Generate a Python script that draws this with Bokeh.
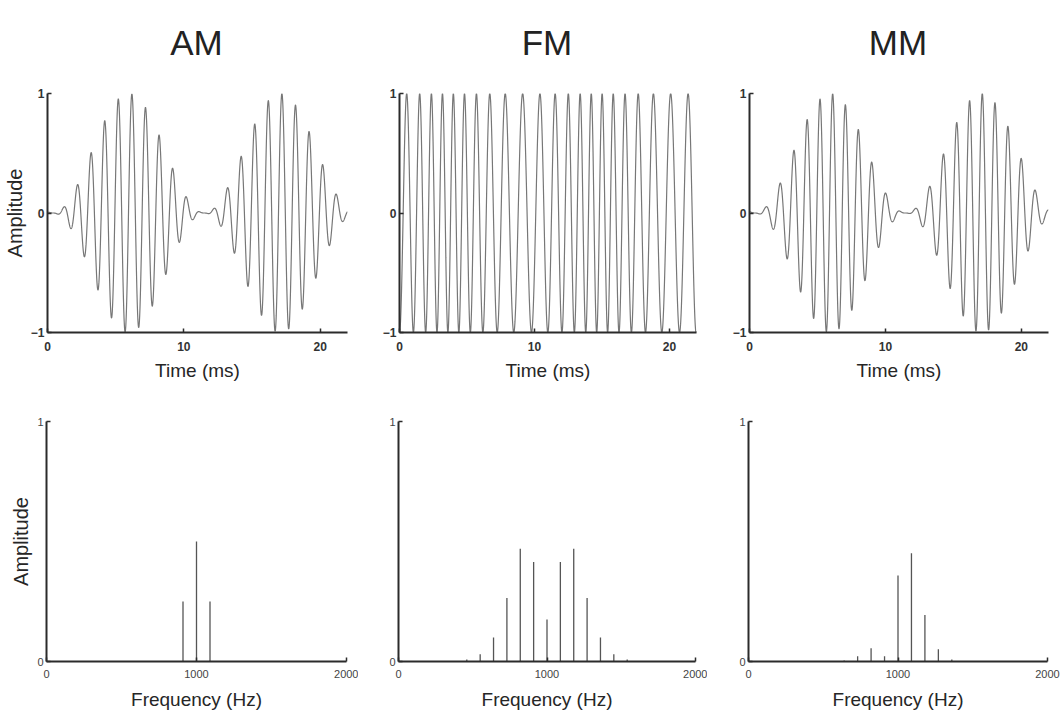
import numpy as np
from bokeh.plotting import figure
from bokeh.layouts import column, row
from bokeh.models import Range1d, FixedTicker, ColumnDataSource
from bokeh.core.properties import value
from bokeh.embed import file_html
from bokeh.resources import INLINE

# ---------------- data ----------------
panel_titles = ["AM", "FM", "MM"]

# time axis (ms)
time_ticks = [0, 10, 20]
time_max_ms = 22.0
amp_ticks_top = [-1, 0, 1]

# signal parameters
carrier_hz = 1000.0          # carrier frequency
mod_hz = 90.0                # modulation rate (envelope period ~11.1 ms)
am_env_zero_ms = 0.4         # envelope minimum time
am_carrier_phase = 0.377     # carrier phase (rad)
fm_index = 2.7               # FM modulation index (±~240 Hz)
fm_fmax_ms = 3.5             # time of max instantaneous frequency
mm_index = 0.8               # FM index in mixed modulation (±~70 Hz)
mm_carrier_phase = 0.742

# spectra (Hz, amplitude)
freq_ticks = [0, 1000, 2000]
amp_ticks_bottom = [0, 1]
am_freqs = [910, 1000, 1090]
am_amps = [0.25, 0.50, 0.25]
fm_freqs = [460, 550, 640, 730, 820, 910, 1000, 1090, 1180, 1270, 1360, 1450, 1540]
fm_amps = [0.008, 0.03, 0.10, 0.265, 0.47, 0.415, 0.175, 0.415, 0.47, 0.265, 0.10, 0.03, 0.008]
mm_freqs = [640, 730, 820, 910, 1000, 1090, 1180, 1270, 1360]
mm_amps = [0.004, 0.022, 0.055, 0.022, 0.358, 0.451, 0.194, 0.051, 0.008]

# ---------------- waveforms ----------------
t_ms = np.linspace(0, time_max_ms, 4000)
t = t_ms / 1000.0
env = 0.5 * (1 - np.cos(2 * np.pi * mod_hz * (t - am_env_zero_ms / 1000.0)))
am_wave = env * np.sin(2 * np.pi * carrier_hz * t + am_carrier_phase)

phi = -2 * np.pi * mod_hz * fm_fmax_ms / 1000.0
theta_fm = 2 * np.pi * carrier_hz * t + fm_index * (np.sin(2 * np.pi * mod_hz * t + phi) - np.sin(phi))
fm_wave = -np.cos(theta_fm)

theta_mm = (2 * np.pi * carrier_hz * t
            - mm_index * np.sin(2 * np.pi * mod_hz * (t - am_env_zero_ms / 1000.0))
            + mm_carrier_phase)
mm_wave = env * np.sin(theta_mm)

waves = [am_wave, fm_wave, mm_wave]
spectra = [(am_freqs, am_amps), (fm_freqs, fm_amps), (mm_freqs, mm_amps)]

FONT = "Liberation Sans"
AXIS_COLOR = "#2b2b2b"
WAVE_COLOR = "#777777"

# layout geometry per column: (min_border_left, frame_width, min_border_right)
cols = [(46, 300, 12), (40, 297, 12), (41, 299, 14)]
TITLE_H = 80
TITLE_BASELINE_FROM_TOP = 42


def style(p, xticks, yticks, bold, label_standoff, axis_standoff):
    p.xgrid.visible = False
    p.ygrid.visible = False
    p.outline_line_color = None
    p.background_fill_color = "white"
    p.border_fill_color = "white"
    p.xaxis.ticker = FixedTicker(ticks=xticks)
    p.yaxis.ticker = FixedTicker(ticks=yticks)
    for ax in (p.xaxis[0], p.yaxis[0]):
        ax.axis_line_width = 2
        ax.axis_line_color = AXIS_COLOR
        ax.major_tick_in = 4
        ax.major_tick_out = 0
        ax.major_tick_line_color = AXIS_COLOR
        ax.major_tick_line_width = 1.5
        ax.minor_tick_line_color = None
        ax.major_label_text_font = FONT
        ax.major_label_text_font_size = "12px" if bold else "11px"
        ax.major_label_text_font_style = "bold" if bold else "normal"
        ax.major_label_text_color = "#333333" if bold else "#444444"
        ax.axis_label_text_font = FONT
        ax.axis_label_text_font_style = "normal"
        ax.axis_label_text_color = "#262626"
    p.xaxis[0].major_label_standoff = label_standoff
    p.xaxis[0].axis_label_standoff = axis_standoff
    p.yaxis[0].major_label_standoff = 3
    p.yaxis[0].axis_label_standoff = 2
    p.xaxis[0].axis_label_text_font_size = "19px"
    p.yaxis[0].axis_label_text_font_size = "20px"


title_row = []
top_row = []
bottom_row = []
for i in range(3):
    bl, fw, br = cols[i]

    # column title strip
    tt = figure(frame_width=fw, frame_height=TITLE_H,
                min_border_left=bl, min_border_right=br,
                min_border_top=0, min_border_bottom=0,
                x_range=Range1d(0, time_max_ms), y_range=Range1d(0, TITLE_H),
                x_axis_location=None, y_axis_location=None,
                output_backend="svg", toolbar_location=None)
    tt.grid.visible = False
    tt.outline_line_color = None
    tt.text(x=[time_max_ms / 2], y=[TITLE_H - TITLE_BASELINE_FROM_TOP], text=[panel_titles[i]],
            text_align="center", text_baseline="alphabetic",
            text_font=value(FONT), text_font_size="35px", text_color="#222222")
    title_row.append(tt)

    p = figure(frame_width=fw, frame_height=239,
               min_border_left=bl, min_border_right=br,
               min_border_top=93 - TITLE_H, min_border_bottom=60,
               x_range=Range1d(0, time_max_ms), y_range=Range1d(-1, 1),
               output_backend="svg", toolbar_location=None)
    p.line(t_ms, waves[i], line_color=WAVE_COLOR, line_width=1.2)
    style(p, time_ticks, amp_ticks_top, True, 9, 6)
    p.xaxis.axis_label = "Time (ms)"
    if i == 0:
        p.yaxis.axis_label = "Amplitude"
    top_row.append(p)

    q = figure(frame_width=fw, frame_height=240,
               min_border_left=bl, min_border_right=br,
               min_border_top=29, min_border_bottom=52,
               x_range=Range1d(0, 2000), y_range=Range1d(0, 1),
               output_backend="svg", toolbar_location=None)
    f, a = spectra[i]
    src = ColumnDataSource(dict(x=f, y0=[0] * len(f), y1=a))
    q.segment(x0="x", y0="y0", x1="x", y1="y1", source=src,
              line_color="#555555", line_width=1.3)
    style(q, freq_ticks, amp_ticks_bottom, False, 8, 8)
    q.xaxis.axis_label = "Frequency (Hz)"
    if i == 0:
        q.yaxis.axis_label = "Amplitude"
    bottom_row.append(q)

layout = column(row(*title_row), row(*top_row), row(*bottom_row))
open("out.html", "w").write(file_html(layout, INLINE))
